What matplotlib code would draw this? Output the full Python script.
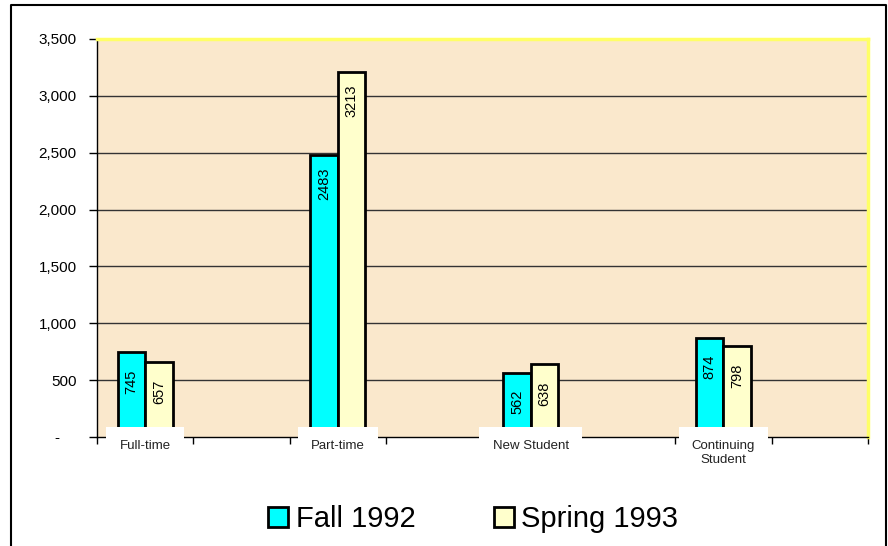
import numpy as np
import matplotlib.pyplot as plt
from matplotlib.lines import Line2D
from matplotlib.ticker import FuncFormatter

plt.rcParams['font.family'] = ['Liberation Sans', 'DejaVu Sans']

# data (empty slots between the groups, as in the original sheet)
categories = ["Full-time", "", "Part-time", "", "New Student", "", "Continuing\nStudent", ""]
fall_1992 = [745, None, 2483, None, 562, None, 874, None]
spring_1993 = [657, None, 3213, None, 638, None, 798, None]
series_names = ["Fall 1992", "Spring 1993"]
colors = ["#00FFFF", "#FFFFCC"]

fig = plt.figure(figsize=(8.88, 5.46), dpi=100)
ax = fig.add_axes([97 / 888, 1 - 437 / 546, 771 / 888, 398 / 546])
ax.set_facecolor("#FAE8CC")

w = 0.285
x = np.arange(len(categories))
for k, (vals, name, c) in enumerate(zip([fall_1992, spring_1993], series_names, colors)):
    idx = [i for i, v in enumerate(vals) if v is not None]
    heights = [vals[i] for i in idx]
    pos = x[idx] + (k - 0.5) * w
    ax.bar(pos, heights, width=w, color=c, edgecolor="black",
           linewidth=2, label=name, zorder=3)
    for p, h in zip(pos, heights):
        ax.annotate(f"{h}", (p, h), xytext=(0, -21), textcoords="offset points",
                    rotation=90, ha="center", va="center", fontsize=10.5, zorder=4)

ax.set_xlim(-0.5, len(categories) - 0.5)
ax.set_ylim(0, 3500)
ax.set_yticks(np.arange(0, 3501, 500))
ax.yaxis.set_major_formatter(FuncFormatter(lambda v, p: "-    " if v == 0 else f"{int(v):,}"))
ax.tick_params(axis="y", labelsize=11, length=6, width=1, pad=8.5, direction="out")
ax.grid(axis="y", color="#333333", linewidth=1, zorder=1)
ax.yaxis.get_gridlines()[0].set_visible(False)
ax.yaxis.get_gridlines()[-1].set_visible(False)

# x ticks at the slot borders, labels drawn as boxed text
ax.set_xticks(np.arange(-0.5, len(categories), 1.0))
ax.set_xticklabels([])
ax.tick_params(axis="x", length=5, width=1, direction="out")
trans = ax.get_xaxis_transform()
for i, cat in enumerate(categories):
    if cat:
        ax.text(i, -0.008, cat, transform=trans, ha="center", va="top", fontsize=9.5,
                color="#222222",
                bbox=dict(boxstyle="square,pad=1.0", fc="white", ec="none"),
                zorder=5, clip_on=False)

for s in ["left", "bottom"]:
    ax.spines[s].set_color("black")
    ax.spines[s].set_linewidth(1)
for s in ["top", "right"]:
    ax.spines[s].set_color("#FFFF66")
    ax.spines[s].set_linewidth(2.5)

fig.legend(loc="center", bbox_to_anchor=(0.533, 0.0495), ncol=2, frameon=False,
           fontsize=21, handlelength=0.69, handleheight=0.69, handletextpad=0.25,
           columnspacing=2.7)

# outer chart frame
fx = [11 / 888, 11 / 888, 886 / 888, 886 / 888]
fy = [0, 1 - 5 / 546, 1 - 5 / 546, 0]
fig.add_artist(Line2D(fx, fy, color="black", linewidth=1.5, transform=fig.transFigure))

fig.savefig("out.png", dpi=100)
